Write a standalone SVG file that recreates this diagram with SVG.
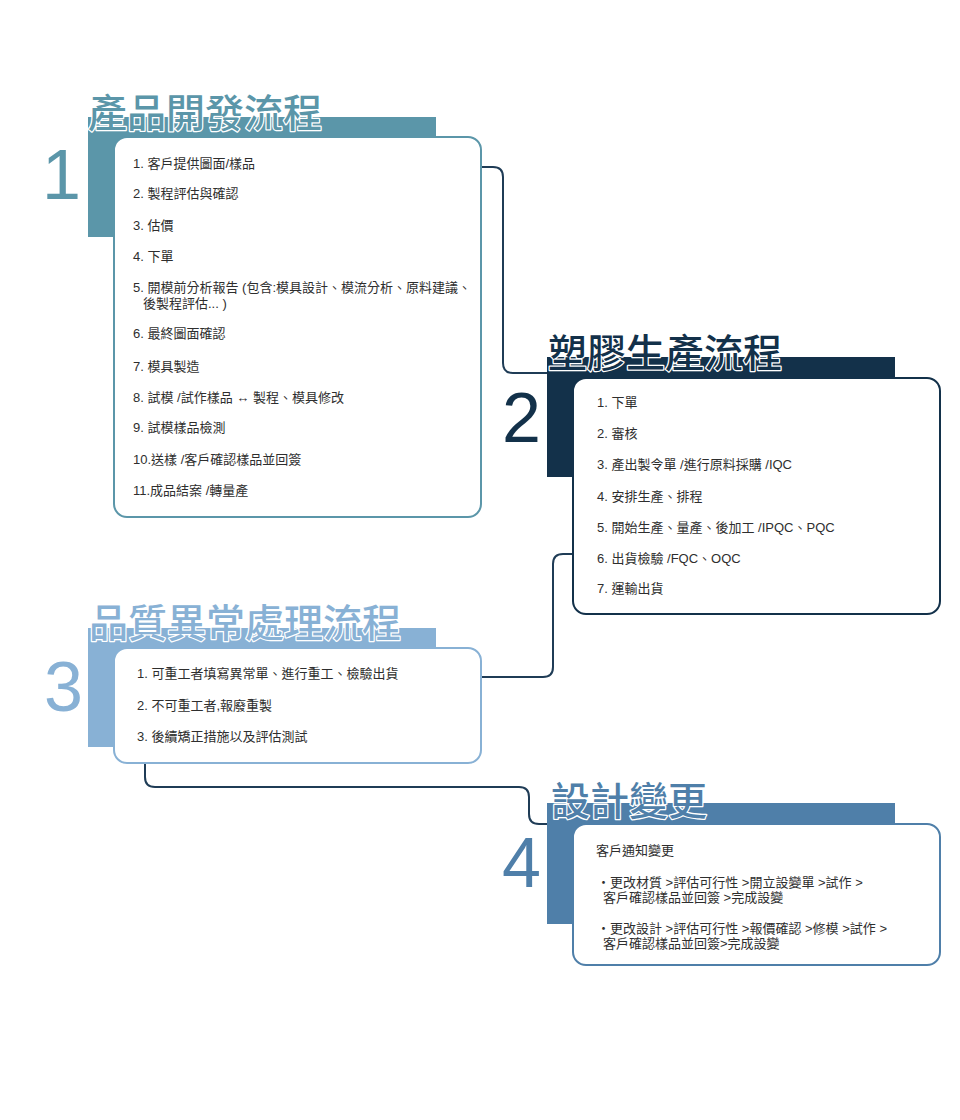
<svg xmlns="http://www.w3.org/2000/svg" width="960" height="1120" viewBox="0 0 960 1120">
<style>
.bg{fill:#ffffff}
.conn{fill:none;stroke:#1f3c56;stroke-width:2}
.box{fill:#ffffff;stroke-width:2}
.title{font-family:"Noto Sans CJK TC","Noto Sans CJK SC",sans-serif;font-size:39px;font-weight:500;stroke:#ffffff;stroke-width:2.5;paint-order:stroke;stroke-linejoin:round}
.num{font-family:"Liberation Sans",Arial,sans-serif;font-size:70px}
.t{font-family:"Liberation Sans","Noto Sans CJK TC",sans-serif;font-size:13px;fill:#2e2e2e}
</style>
<rect class="bg" x="0" y="0" width="960" height="1120"/>
<g id="connectors">
<path class="conn" d="M481,167 H493 Q503,167 503,177 V363 Q503,373 513,373 H548"/>
<path class="conn" d="M573,554 H563 Q553,554 553,564 V667 Q553,677 543,677 H481"/>
<path class="conn" d="M145,763 V777 Q145,787 155,787 H519 Q529,787 529,797 V814 Q529,824 539,824 H548"/>
</g>
<g id="node1">
<text class="num" x="42" y="199" fill="#5b96a9">1</text>
<rect x="88" y="117" width="348" height="120" fill="#5b96a9"/>
<text class="title" x="88" y="127" fill="#5b96a9">產品開發流程</text>
<rect class="box" x="114" y="137" width="367" height="380" rx="13" stroke="#5b96a9"/>
<text class="t" x="133" y="167.5">1. 客戶提供圖面/樣品</text>
<text class="t" x="133" y="198">2. 製程評估與確認</text>
<text class="t" x="133" y="229.5">3. 估價</text>
<text class="t" x="133" y="260.5">4. 下單</text>
<text class="t" x="133" y="291.5">5. 開模前分析報告 (包含:模具設計、模流分析、原料建議、</text>
<text class="t" x="143" y="307.5">後製程評估... )</text>
<text class="t" x="133" y="337.5">6. 最終圖面確認</text>
<text class="t" x="133" y="370.5">7. 模具製造</text>
<text class="t" x="133" y="401.5">8. 試模 /試作樣品 ↔ 製程、模具修改</text>
<text class="t" x="133" y="431.5">9. 試模樣品檢測</text>
<text class="t" x="133" y="463.5">10.送樣 /客戶確認樣品並回簽</text>
<text class="t" x="133" y="494.5">11.成品結案 /轉量產</text>
</g>
<g id="node2">
<text class="num" x="502" y="442" fill="#13314a">2</text>
<rect x="547" y="357" width="348" height="120" fill="#13314a"/>
<text class="title" x="548" y="367" fill="#13314a">塑膠生產流程</text>
<rect class="box" x="573" y="378" width="367" height="236" rx="13" stroke="#13314a"/>
<text class="t" x="597" y="406.5">1. 下單</text>
<text class="t" x="597" y="437.5">2. 審核</text>
<text class="t" x="597" y="468.5">3. 產出製令單 /進行原料採購 /IQC</text>
<text class="t" x="597" y="500.5">4. 安排生產、排程</text>
<text class="t" x="597" y="531.5">5. 開始生產、量產、後加工 /IPQC、PQC</text>
<text class="t" x="597" y="562.5">6. 出貨檢驗 /FQC、OQC</text>
<text class="t" x="597" y="592.5">7. 運輸出貨</text>
</g>
<g id="node3">
<text class="num" x="44" y="711" fill="#88b1d5">3</text>
<rect x="88" y="628" width="348" height="119" fill="#88b1d5"/>
<text class="title" x="89" y="637" fill="#88b1d5">品質異常處理流程</text>
<rect class="box" x="114" y="648" width="367" height="115" rx="13" stroke="#88b1d5"/>
<text class="t" x="137" y="677.5">1. 可重工者填寫異常單、進行重工、檢驗出貨</text>
<text class="t" x="137" y="709.5">2. 不可重工者,報廢重製</text>
<text class="t" x="137" y="740.5">3. 後續矯正措施以及評估測試</text>
</g>
<g id="node4">
<text class="num" x="502" y="887" fill="#4f7fa9">4</text>
<rect x="547" y="803" width="348" height="121" fill="#4f7fa9"/>
<text class="title" x="551" y="815" fill="#4f7fa9">設計變更</text>
<rect class="box" x="573" y="824" width="367" height="141" rx="13" stroke="#4f7fa9"/>
<text class="t" x="596" y="854.5">客戶通知變更</text>
<text class="t" x="597" y="886.5">・更改材質 &gt;評估可行性 &gt;開立設變單 &gt;試作 &gt;</text>
<text class="t" x="603" y="901.5">客戶確認樣品並回簽 &gt;完成設變</text>
<text class="t" x="597" y="932.5">・更改設計 &gt;評估可行性 &gt;報價確認 &gt;修模 &gt;試作 &gt;</text>
<text class="t" x="603" y="947.5">客戶確認樣品並回簽&gt;完成設變</text>
</g>
</svg>
